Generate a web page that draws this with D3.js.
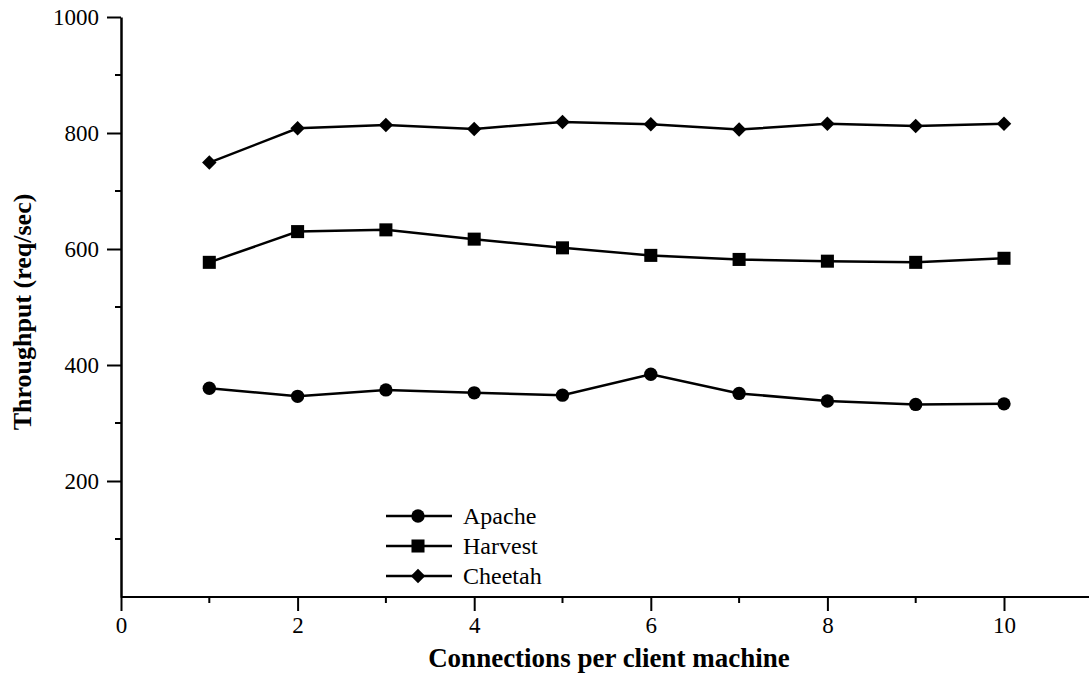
<!DOCTYPE html>
<html>
<head>
<meta charset="utf-8">
<script src="https://cdn.jsdelivr.net/npm/d3@7"></script>
<style>
  body { margin: 0; background: #fff; }
  svg { display: block; }
  svg text { font-family: "Liberation Serif", "Tinos", "Times New Roman", Times, "DejaVu Serif", serif; }
</style>
</head>
<body>
<div id="chart"></div>
<script>
// data
const connections = [1, 2, 3, 4, 5, 6, 7, 8, 9, 10];
const apache = [360, 346, 357, 352, 348, 384, 351, 338, 332, 333];
const harvest = [577, 630, 633, 617, 602, 589, 582, 579, 577, 584];
const cheetah = [749, 808, 814, 807, 819, 815, 806, 816, 812, 816];
const seriesNames = ['Apache', 'Harvest', 'Cheetah'];
const xTicks = [0, 2, 4, 6, 8, 10];
const yTicks = [200, 400, 600, 800, 1000];

const width = 1089, height = 677;
const margin = { top: 17, left: 121, bottom: 80 };

const x = d3.scaleLinear().domain([0, 11]).range([margin.left, margin.left + 11 * 88.3]);
const y = d3.scaleLinear().domain([0, 1000]).range([height - margin.bottom, margin.top]);

const svg = d3.select('#chart').append('svg')
  .attr('width', width)
  .attr('height', height);

// x axis
const xAxis = svg.append('g')
  .attr('transform', `translate(0,${y(0)})`)
  .call(d3.axisBottom(x).tickValues(xTicks).tickFormat(d3.format('d'))
    .tickSize(14).tickSizeOuter(0).tickPadding(6))
  .attr('font-size', 23);
xAxis.select('.domain').attr('stroke-width', 2).attr('d', `M${x(0)},0H${width}`);
xAxis.selectAll('.tick line').attr('stroke-width', 2);
xAxis.append('g').selectAll('line')
  .data([1, 3, 5, 7, 9])
  .join('line')
  .attr('x1', d => x(d)).attr('x2', d => x(d))
  .attr('y1', 0).attr('y2', 6)
  .attr('stroke', '#000').attr('stroke-width', 2);

// y axis
const yAxis = svg.append('g')
  .attr('transform', `translate(${x(0)},0)`)
  .call(d3.axisLeft(y).tickValues(yTicks).tickFormat(d3.format('d'))
    .tickSize(14).tickSizeOuter(0).tickPadding(8))
  .attr('font-size', 23);
yAxis.select('.domain').attr('stroke-width', 2.5);
yAxis.selectAll('.tick line').attr('stroke-width', 2);
yAxis.append('g').selectAll('line')
  .data([100, 300, 500, 700, 900])
  .join('line')
  .attr('x1', 0).attr('x2', -6)
  .attr('y1', d => y(d)).attr('y2', d => y(d))
  .attr('stroke', '#000').attr('stroke-width', 2);

// axis titles
svg.append('text')
  .attr('x', 609).attr('y', 667)
  .attr('text-anchor', 'middle')
  .attr('font-size', 27).attr('font-weight', 'bold')
  .text('Connections per client machine');

svg.append('text')
  .attr('transform', 'translate(31,312) rotate(-90)')
  .attr('text-anchor', 'middle')
  .attr('font-size', 26).attr('font-weight', 'bold')
  .text('Throughput (req/sec)');

// markers: circle, square, diamond (square turned 45deg)
const markers = [
  { type: d3.symbolCircle, size: 140, rot: 0 },
  { type: d3.symbolSquare, size: 170, rot: 0 },
  { type: d3.symbolSquare, size: 105, rot: 45 }
];

const allSeries = [apache, harvest, cheetah];
const line = d3.line().x((d, i) => x(connections[i])).y(d => y(d));

allSeries.forEach((vals, k) => {
  svg.append('path')
    .datum(vals)
    .attr('fill', 'none')
    .attr('stroke', '#000')
    .attr('stroke-width', 2.5)
    .attr('d', line);
  svg.append('g').selectAll('path')
    .data(vals)
    .join('path')
    .attr('transform', (d, i) => `translate(${x(connections[i])},${y(d)}) rotate(${markers[k].rot})`)
    .attr('d', d3.symbol().type(markers[k].type).size(markers[k].size))
    .attr('fill', '#000');
});

// legend
const legend = svg.append('g');
const rowsY = [516, 546, 576];
seriesNames.forEach((name, k) => {
  const g = legend.append('g').attr('transform', `translate(0,${rowsY[k]})`);
  g.append('line').attr('x1', 386).attr('x2', 452).attr('y1', 0).attr('y2', 0)
    .attr('stroke', '#000').attr('stroke-width', 2.5);
  g.append('path').attr('transform', `translate(418,0) rotate(${markers[k].rot})`)
    .attr('d', d3.symbol().type(markers[k].type).size(markers[k].size)).attr('fill', '#000');
  g.append('text').attr('x', 463).attr('y', 0).attr('dy', '0.33em')
    .attr('font-size', 24).text(name);
});
</script>
</body>
</html>
